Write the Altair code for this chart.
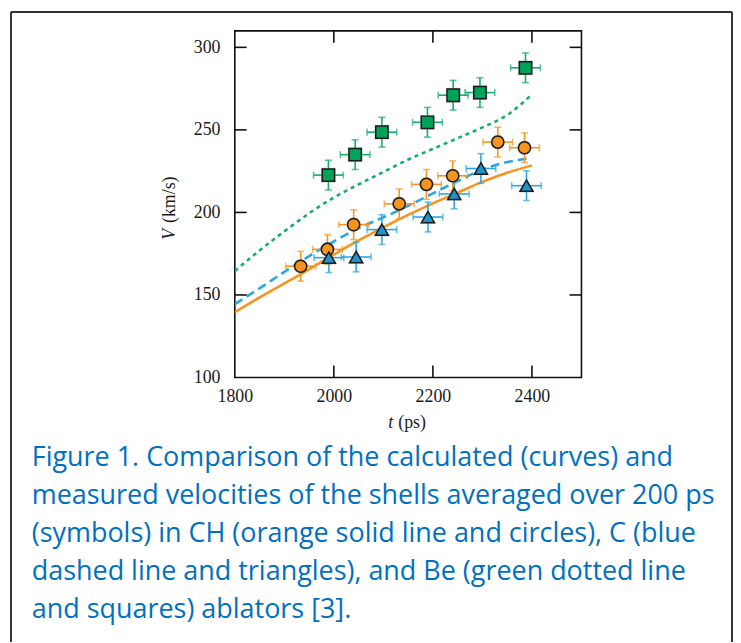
import altair as alt
import pandas as pd

# ---------------- data ----------------
# measured points (symbols)
ch_t = [1933, 1987, 2040, 2132, 2187, 2240, 2331, 2385]
ch_v = [167.4, 177.6, 192.6, 205.2, 217.0, 222.2, 242.6, 239.2]
c_t = [1990, 2045, 2097, 2190, 2243, 2297, 2389]
c_v = [172.6, 173.0, 189.6, 197.2, 211.2, 226.6, 216.2]
be_t = [1989, 2043, 2097, 2189, 2241, 2295, 2387]
be_v = [222.6, 235.0, 248.6, 254.6, 271.0, 272.6, 287.6]
err_t = 30   # ps
err_v = 9    # km/s

# calculated curves
curve_t = [1800, 1850, 1900, 1950, 2000, 2050, 2100, 2150, 2200, 2250, 2300, 2350, 2400]
ch_curve = [139.5, 148.5, 157.0, 165.5, 174.5, 183.0, 191.0, 198.5, 205.5, 212.0, 218.5, 224.0, 228.5]
be_curve = [164.5, 177.0, 188.5, 199.5, 209.0, 217.0, 224.5, 232.0, 238.5, 245.0, 251.5, 259.0, 271.5]
c_curve_t = [1800, 1850, 1900, 1950, 2000, 2050, 2100, 2150, 2200, 2250, 2300, 2350, 2390]
c_curve = [144.5, 154.0, 164.0, 173.5, 182.5, 190.5, 197.0, 204.0, 211.5, 219.0, 226.0, 230.5, 232.5]

x_labels = [1800, 2000, 2200, 2400]
y_labels = [100, 150, 200, 250, 300]
x_ticks = [2000, 2200, 2400]
y_ticks = [150, 200, 250, 300]

caption = [
    "Figure 1. Comparison of the calculated (curves) and",
    "measured velocities of the shells averaged over 200 ps",
    "(symbols) in CH (orange solid line and circles), C (blue",
    "dashed line and triangles), and Be (green dotted line",
    "and squares) ablators [3].",
]

# colours
ORANGE = "#F7941D"
BLUE_FILL = "#1F93D0"
BLUE_LINE = "#29A8E0"
GREEN_FILL = "#00A25A"
GREEN_LINE = "#13AD6E"
OUTLINE = "#1a1a1a"

W, H = 350, 350
xs = alt.Scale(domain=[1800, 2500], nice=False, zero=False)
ys = alt.Scale(domain=[100, 310], nice=False, zero=False)
SERIF = "Liberation Serif"

xaxis = alt.Axis(values=x_labels, title=None, ticks=False, tickSize=0, domain=False, grid=False,
                 format="d", labelFlush=False, labelPadding=10,
                 labelFont=SERIF, labelFontSize=18, labelColor="#1a1a1a")
yaxis = alt.Axis(values=y_labels, title=None, ticks=False, tickSize=0, domain=False, grid=False,
                 format="d", labelFlush=False, labelPadding=15,
                 labelFont=SERIF, labelFontSize=18, labelColor="#1a1a1a")

# ---------------- frames ----------------
def pts(t, v, name):
    return pd.DataFrame({"t": t, "v": v, "s": name})

ch = pts(ch_t, ch_v, "CH")
c = pts(c_t, c_v, "C")
be = pts(be_t, be_v, "Be")

for d in (ch, c, be):
    d["t0"] = d["t"] - err_t
    d["t1"] = d["t"] + err_t
    d["v0"] = d["v"] - err_v
    d["v1"] = d["v"] + err_v

X = lambda f="t": alt.X(f"{f}:Q", scale=xs, axis=xaxis)
Y = lambda f="v": alt.Y(f"{f}:Q", scale=ys, axis=yaxis)

# curves
def curve(t, v, color, dash):
    df = pd.DataFrame({"t": t, "v": v})
    kw = dict(color=color, strokeWidth=2.6, interpolate="monotone", clip=True)
    if dash:
        kw["strokeDash"] = dash
    return alt.Chart(df).mark_line(**kw).encode(x=X(), y=Y())

l_ch = curve(curve_t, ch_curve, ORANGE, None)
l_c = curve(c_curve_t, c_curve, BLUE_LINE, [9, 5])
l_be = curve(curve_t, be_curve, GREEN_LINE, [4, 4])

# error bars
def errbars(d, color):
    ch_ = alt.Chart(d)
    v_bar = ch_.mark_rule(color=color, strokeWidth=1.6).encode(x=X(), y=Y("v0"), y2="v1:Q")
    h_bar = ch_.mark_rule(color=color, strokeWidth=1.6).encode(x=X("t0"), x2="t1:Q", y=Y())
    cap_top = ch_.mark_tick(color=color, orient="horizontal", size=7, thickness=1.6).encode(x=X(), y=Y("v1"))
    cap_bot = ch_.mark_tick(color=color, orient="horizontal", size=7, thickness=1.6).encode(x=X(), y=Y("v0"))
    cap_l = ch_.mark_tick(color=color, orient="vertical", size=7, thickness=1.6).encode(x=X("t0"), y=Y())
    cap_r = ch_.mark_tick(color=color, orient="vertical", size=7, thickness=1.6).encode(x=X("t1"), y=Y())
    return [v_bar, h_bar, cap_top, cap_bot, cap_l, cap_r]

def symbols(d, shape, fill, size):
    shadow = alt.Chart(d).mark_point(shape=shape, filled=True, color="#9a9a9a", opacity=0.45,
                                     size=size * 1.45).encode(x=X(), y=Y())
    main = alt.Chart(d).mark_point(shape=shape, filled=True, fill=fill, stroke=OUTLINE,
                                   strokeWidth=1.5, opacity=1, size=size).encode(x=X(), y=Y())
    return [shadow, main]

# inside ticks
xt = pd.DataFrame({"t": x_ticks})
yt = pd.DataFrame({"v": y_ticks})
tick_kw = dict(color="#111", strokeWidth=1.6)
t_bottom = alt.Chart(xt).mark_rule(**tick_kw).encode(x=X(), y=alt.value(H), y2=alt.value(H - 12))
t_top = alt.Chart(xt).mark_rule(**tick_kw).encode(x=X(), y=alt.value(0), y2=alt.value(12))
t_left = alt.Chart(yt).mark_rule(**tick_kw).encode(y=Y(), x=alt.value(0), x2=alt.value(12))
t_right = alt.Chart(yt).mark_rule(**tick_kw).encode(y=Y(), x=alt.value(W), x2=alt.value(W - 12))

# axis titles (with italic variable names)
one = pd.DataFrame({"k": [0]})
ytitle_v = alt.Chart(one).mark_text(text="V", font=SERIF, fontStyle="italic", fontSize=18, angle=270,
                                    align="left", baseline="middle", color="#1a1a1a").encode(
    x=alt.value(-65), y=alt.value(211))
ytitle_u = alt.Chart(one).mark_text(text="(km/s)", font=SERIF, fontSize=18, angle=270,
                                    align="left", baseline="middle", color="#1a1a1a").encode(
    x=alt.value(-65), y=alt.value(194))
xtitle_v = alt.Chart(one).mark_text(text="t", font=SERIF, fontStyle="italic", fontSize=18,
                                    align="left", baseline="alphabetic", color="#1a1a1a").encode(
    x=alt.value(155), y=alt.value(401))
xtitle_u = alt.Chart(one).mark_text(text="(ps)", font=SERIF, fontSize=18,
                                    align="left", baseline="alphabetic", color="#1a1a1a").encode(
    x=alt.value(165), y=alt.value(401))

# caption
cap = alt.Chart(one).mark_text(text=caption, font="Open Sans", fontSize=27.2, lineHeight=38.5,
                               align="left", baseline="alphabetic", color="#0070C0").encode(
    x=alt.value(-205), y=alt.value(439))

# outer frame of the figure box
frame_kw = dict(color="#333", strokeWidth=2)
f_left = alt.Chart(one).mark_rule(**frame_kw).encode(x=alt.value(-226), y=alt.value(-19), y2=alt.value(620))
f_top = alt.Chart(one).mark_rule(**frame_kw).encode(x=alt.value(-226), x2=alt.value(502), y=alt.value(-19))
f_right = alt.Chart(one).mark_rule(**frame_kw).encode(x=alt.value(502), y=alt.value(-19), y2=alt.value(620))

layers = [l_be, l_c, l_ch]
layers += errbars(be, GREEN_LINE) + errbars(ch, ORANGE) + errbars(c, BLUE_LINE)
layers += symbols(be, "square", GREEN_FILL, 155)
layers += symbols(ch, "circle", ORANGE, 150)
layers += symbols(c, "triangle-up", BLUE_FILL, 175)
layers += [t_bottom, t_top, t_left, t_right, ytitle_v, ytitle_u, xtitle_v, xtitle_u, cap,
           f_left, f_top, f_right]

chart = alt.layer(*layers).properties(
    width=W, height=H,
    autosize=alt.AutoSizeParams(type="none"),
    padding={"left": 229, "top": 20, "right": 153, "bottom": 264},
).configure(background="white").configure_view(stroke="#111", strokeWidth=1.6)

chart.save("out.html", embed_options={"renderer": "svg", "actions": False})
